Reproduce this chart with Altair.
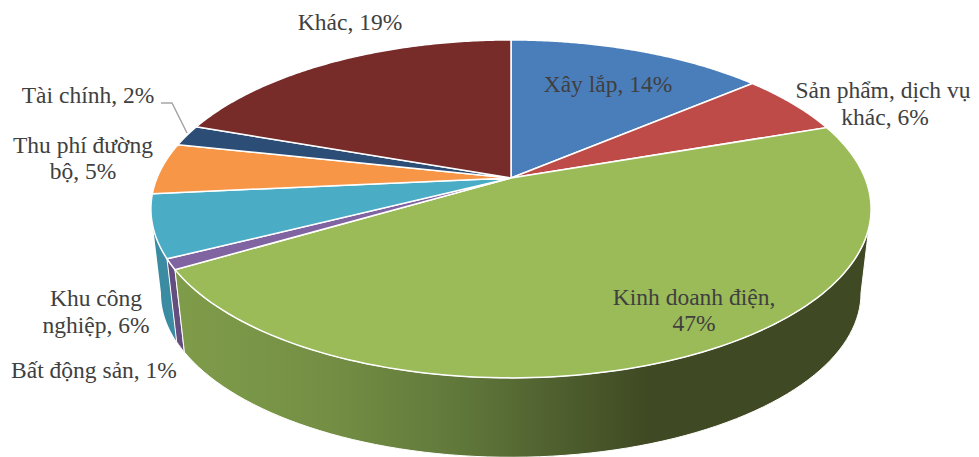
import numpy as np
import pandas as pd
import altair as alt

# Chart values
categories = ["Xây lắp", "Sản phẩm, dịch vụ khác", "Kinh doanh điện", "Bất động sản",
              "Khu công nghiệp", "Thu phí đường bộ", "Tài chính", "Khác"]
shares = [13.8, 5.9, 46.8, 1.0, 6.0, 4.9, 2.0, 19.6]
top_colors = ["#4A7EBB", "#BE4B48", "#9BBB59", "#8064A2", "#4BACC6", "#F79646", "#2C4D75", "#772C2A"]

label_lines = ["Xây lắp, 14%", "Sản phẩm, dịch vụ", "khác, 6%", "Kinh doanh điện,", "47%",
               "Khu công", "nghiệp, 6%", "Bất động sản, 1%", "Thu phí đường", "bộ, 5%",
               "Tài chính, 2%", "Khác, 19%"]
label_x = [608, 883, 885, 694, 694, 96, 96, 94, 83, 83, 88, 350]
label_y = [85, 91, 118, 298, 324, 299, 326, 371, 146, 172, 96, 23]

leader_x = [161, 172, 187]
leader_y = [103, 103, 133]

# Perspective of the tilted pie
CX, TOP_Y, A, B, K = 511.0, 178.0, 354.0, 163.3, 0.183
DEPTH, SHRINK = 85.0, 0.972

WIDTH, HEIGHT = 963, 449
X_SCALE = alt.Scale(domain=[8, 8 + WIDTH], nice=False, zero=False)
Y_SCALE = alt.Scale(domain=[8 + HEIGHT, 8], nice=False, zero=False)


def project(theta_deg, lower=False):
    t = np.radians(theta_deg)
    X, Y = np.sin(t), np.cos(t)
    d = 1 + K * Y
    if lower:
        return CX + SHRINK * A * X / d, TOP_Y + DEPTH - SHRINK * B * Y / d
    return CX + A * X / d, TOP_Y - B * Y / d


def shape(xs, ys, **mark):
    df = pd.DataFrame({"x": xs, "y": ys, "i": np.arange(len(xs))})
    return alt.Chart(df).mark_line(**mark).encode(
        x=alt.X("x:Q", scale=X_SCALE, axis=None),
        y=alt.Y("y:Q", scale=Y_SCALE, axis=None),
        order=alt.Order("i:Q"),
    )


bounds = np.concatenate([[0], np.cumsum(shares)]) * 3.6
layers = []


def wall(t1, t2, fill, stroke_w=0.0):
    th = np.linspace(t1, t2, 80)
    x1, y1 = project(th)
    x2, y2 = project(th[::-1], lower=True)
    xs = np.concatenate([x1, x2, x1[:1]])
    ys = np.concatenate([y1, y2, y1[:1]])
    kw = {"stroke": "#FFFFFF", "strokeWidth": stroke_w} if stroke_w else {"strokeWidth": 0}
    return shape(xs, ys, fill=fill, **kw)


tangent = np.degrees(np.arcsin(K))
green_fill = alt.Gradient(
    gradient="linear", x1=0, y1=0, x2=1, y2=0,
    stops=[
        alt.GradientStop(color="#7F9C4A", offset=0),
        alt.GradientStop(color="#748F44", offset=0.22),
        alt.GradientStop(color="#5F763A", offset=0.42),
        alt.GradientStop(color="#3F4923", offset=0.68),
        alt.GradientStop(color="#3F4923", offset=1),
    ],
)
layers.append(wall(bounds[4], 270 - tangent, "#3B8CA2"))
layers.append(wall(bounds[3], bounds[4], "#644E80", 1.0))
layers.append(wall(90 + tangent, bounds[3], green_fill, 1.0))

for i, color in enumerate(top_colors):
    th = np.linspace(bounds[i], bounds[i + 1], 120)
    x, y = project(th)
    xs = np.concatenate([[CX], x, [CX]])
    ys = np.concatenate([[TOP_Y], y, [TOP_Y]])
    layers.append(shape(xs, ys, fill=color, stroke="#FFFFFF", strokeWidth=1.5))

layers.append(shape(leader_x, leader_y, stroke="#A6A6A6", strokeWidth=1.5))

labels = pd.DataFrame({"t": label_lines, "x": label_x, "y": label_y})
layers.append(
    alt.Chart(labels).mark_text(font="Liberation Serif", fontSize=23.5, color="#404040",
                                align="center", baseline="middle").encode(
        x=alt.X("x:Q", scale=X_SCALE, axis=None),
        y=alt.Y("y:Q", scale=Y_SCALE, axis=None),
        text="t:N",
    )
)

chart = alt.layer(*layers).properties(
    width=WIDTH, height=HEIGHT, padding=0, background="#FFFFFF",
    autosize=alt.AutoSizeParams(type="none"),
).configure_view(stroke=None)

chart.save("out.html", embed_options={"renderer": "svg", "actions": False})
